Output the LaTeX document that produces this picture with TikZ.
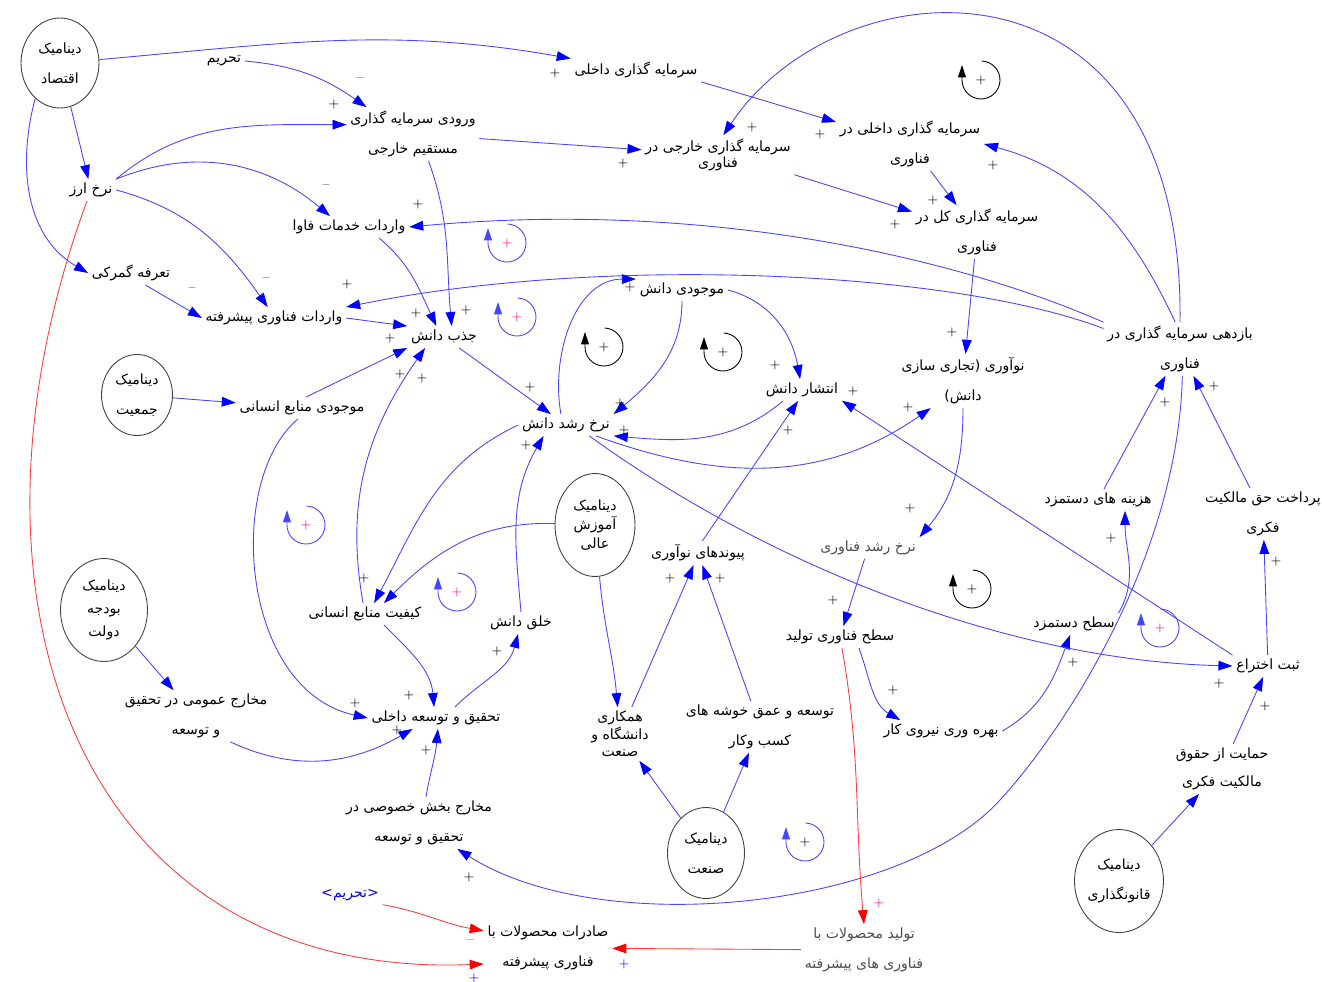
\documentclass[tikz,border=0pt]{standalone}
\usepackage{fontspec}
\newfontfamily\fa[Script=Arabic]{DejaVu Sans}
\TeXXeTstate=1
\usetikzlibrary{arrows.meta,shapes.geometric}
\definecolor{lblue}{RGB}{70,70,255}
\definecolor{lred}{RGB}{255,60,60}
\newcommand{\rl}[1]{\beginR #1\endR}

\begin{document}
\begin{tikzpicture}[x=0.02cm,y=0.02cm,
  var/.style={font=\fa\fontsize{8}{9}\selectfont, align=center, inner sep=2pt},
  tall/.style={var, font=\fa\fontsize{8}{17}\selectfont},
  dyn/.style={ellipse, draw=black!75, line width=0.5pt, inner sep=0pt, align=center, font=\fa\fontsize{8}{17}\selectfont},
  lnk/.style={draw=lblue, line width=0.5pt, -{Triangle[length=8pt,width=5.5pt,color=blue]}},
  rlnk/.style={draw=lred, line width=0.5pt, -{Triangle[length=8pt,width=5.5pt,color=red]}},
  sgn/.style={font=\fontsize{7}{7}\selectfont, inner sep=0pt}]
  \useasboundingbox (0,0) rectangle (1322,-981);

  % dynamics
  \node[dyn, minimum width=1.56cm, minimum height=1.8cm] (econ) at (60,-63) {\rl{دینامیک}\\\rl{اقتصاد}};
  \node[dyn, minimum width=1.42cm, minimum height=1.62cm] (pop) at (137,-395) {\rl{دینامیک}\\\rl{جمعیت}};
  \node[dyn, minimum width=1.74cm, minimum height=2.06cm, font=\fa\fontsize{8}{13}\selectfont] (budget) at (104,-610) {\rl{دینامیک}\\\rl{بودجه}\\\rl{دولت}};
  \node[dyn, minimum width=1.6cm, minimum height=2.06cm, font=\fa\fontsize{8}{11}\selectfont] (edu) at (595,-525) {\rl{دینامیک}\\\rl{آموزش}\\\rl{عالی}};
  \node[dyn, minimum width=1.54cm, minimum height=1.82cm] (ind) at (706,-853) {\rl{دینامیک}\\\rl{صنعت}};
  \node[dyn, minimum width=1.76cm, minimum height=2.06cm] (law) at (1119,-881) {\rl{دینامیک}\\\rl{قانونگذاری}};

  % variables
  \node[var] (sanction) at (224,-61) {\rl{تحریم}};
  \node[var] (domInv) at (636,-70) {\rl{سرمایه گذاری داخلی}};
  \node[tall] (fdi) at (413,-134) {\rl{ورودی سرمایه گذاری}\\\rl{مستقیم خارجی}};
  \node[var] (exch) at (91,-190) {\rl{نرخ ارز}};
  \node[var] (tariff) at (131,-273) {\rl{تعرفه گمرکی}};
  \node[var] (ictImp) at (349,-227) {\rl{واردات خدمات فاوا}};
  \node[var] (advImp) at (274,-318) {\rl{واردات فناوری پیشرفته}};
  \node[var] (absorb) at (444,-337) {\rl{جذب دانش}};
  \node[var] (stockHR) at (302,-408) {\rl{موجودی منابع انسانی}};
  \node[var] (stockK) at (682,-290) {\rl{موجودی دانش}};
  \node[var] (forTech) at (718,-155) {\rl{سرمایه گذاری خارجی در}\\\rl{فناوری}};
  \node[tall] (domTech) at (910,-144) {\rl{سرمایه گذاری داخلی در}\\\rl{فناوری}};
  \node[tall] (totTech) at (977,-232) {\rl{سرمایه گذاری کل در}\\\rl{فناوری}};
  \node[tall] (roi) at (1180,-349) {\rl{بازدهی سرمایه گذاری در}\\\rl{فناوری}};
  \node[tall] (innov) at (963,-381) {\rl{نوآوری (تجاری سازی}\\\rl{دانش)}};
  \node[var] (diffusion) at (802,-390) {\rl{انتشار دانش}};
  \node[var] (growthK) at (566,-425) {\rl{نرخ رشد دانش}};
  \node[var] (hrQual) at (365,-614) {\rl{کیفیت منابع انسانی}};
  \node[var] (kCreate) at (521,-623) {\rl{خلق دانش}};
  \node[var] (innovLinks) at (698,-553) {\rl{پیوندهای نوآوری}};
  \node[var, text=black!70] (techGrowth) at (868,-548) {\rl{نرخ رشد فناوری}};
  \node[var] (techLevel) at (840,-637) {\rl{سطح فناوری تولید}};
  \node[var] (wageCost) at (1098,-500) {\rl{هزینه های دستمزد}};
  \node[tall] (ipPay) at (1263,-514) {\rl{پرداخت حق مالکیت}\\\rl{فکری}};
  \node[var] (wageLevel) at (1074,-624) {\rl{سطح دستمزد}};
  \node[var] (patent) at (1268,-666) {\rl{ثبت اختراع}};
  \node[tall, font=\fa\fontsize{8}{16}\selectfont] (ipProt) at (1222,-769) {\rl{حمایت از حقوق}\\\rl{مالکیت فکری}};
  \node[var] (labProd) at (941,-731) {\rl{بهره وری نیروی کار}};
  \node[tall] (cluster) at (760,-727) {\rl{توسعه و عمق خوشه های}\\\rl{کسب وکار}};
  \node[var, font=\fa\fontsize{8}{10}\selectfont] (uniInd) at (620,-734) {\rl{همکاری}\\\rl{دانشگاه و}\\\rl{صنعت}};
  \node[var] (domRD) at (436,-718) {\rl{تحقیق و توسعه داخلی}};
  \node[tall] (pubRD) at (196,-716) {\rl{مخارج عمومی در تحقیق}\\\rl{و توسعه}};
  \node[tall] (privRD) at (419,-823) {\rl{مخارج بخش خصوصی در}\\\rl{تحقیق و توسعه}};
  \node[tall] (exports) at (548,-948) {\rl{صادرات محصولات با}\\\rl{فناوری پیشرفته}};
  \node[tall, text=black!70] (advProd) at (864,-950) {\rl{تولید محصولات با}\\\rl{فناوری های پیشرفته}};
  \node[var, text=blue] (shadow) at (350,-895) {\rl{<تحریم>}};

  % links
  \draw[lnk] (econ) to[out=5,in=170] (domInv);
  \draw[lnk] (sanction.east) to[out=-5,in=145] (fdi.150);
  \draw[lnk] (exch.north east) to[out=40,in=180] (fdi.172);
  \draw[lnk] (exch.north east) to[out=22,in=140] (ictImp.150);
  \draw[lnk] (exch.east) to[out=-15,in=125] (advImp.120);
  \draw[lnk] (econ) -- (exch);
  \draw[lnk] (econ.235) to[out=-105,in=150] (tariff.west);
  \draw[lnk] (tariff.-40) -- (advImp.west);
  \draw[lnk] (domInv.south east) -- (domTech);
  \draw[lnk] (fdi) -- (forTech);
  \draw[lnk] (forTech.south east) -- (totTech);
  \draw[lnk] (domTech) -- (totTech);
  \draw[lnk] (roi.north) .. controls (1185,60) and (840,40) .. (forTech.75);
  \draw[lnk] (roi.100) to[out=115,in=-15] (domTech.east);
  \draw[lnk] (roi.north west) .. controls (950,-255) and (700,-200) .. (ictImp.east);
  \draw[lnk] (roi.165) .. controls (950,-270) and (600,-255) .. (advImp.north east);
  \draw[lnk] (totTech) -- (innov);
  \draw[lnk] (innov) to[out=-90,in=50] (techGrowth.north east);
  \draw[lnk] (techGrowth) -- (techLevel);
  \draw[lnk] (techLevel.-30) to[out=-70,in=150] (labProd.165);
  \draw[lnk] (labProd.east) to[out=30,in=-110] (wageLevel.-110);
  \draw[lnk] (wageLevel.north east) to[out=60,in=-90] (wageCost.-22);
  \draw[lnk] (wageCost) -- (roi);
  \draw[lnk] (ipPay) -- (roi);
  \draw[lnk] (patent) -- (ipPay);
  \draw[lnk] (ipProt) -- (patent);
  \draw[lnk] (law) -- (ipProt);
  \draw[lnk] (patent.north west) -- (diffusion.-15);
  \draw[lnk] (growthK.-25) .. controls (760,-560) and (1000,-660) .. (patent.west);
  \draw[lnk] (roi.-85) .. controls (1178,-560) and (1060,-735) .. (1000,-800)
    .. controls (900,-910) and (600,-940) .. (privRD.-34);
  \draw[lnk] (privRD.75) to[out=80,in=-95] (domRD.-80);
  \draw[lnk] (pubRD.-37) to[out=-25,in=-150] (domRD.205);
  \draw[lnk] (stockHR.-110) .. controls (225,-480) and (240,-690) .. (domRD.west);
  \draw[lnk] (hrQual.-30) to[out=-45,in=95] (domRD.100);
  \draw[lnk] (domRD.30) to[out=45,in=-105] (kCreate);
  \draw[lnk] (kCreate.north) to[out=95,in=-120] (growthK.-154);
  \draw[lnk] (growthK.west) to[out=-155,in=62] (hrQual.50);
  \draw[lnk] (edu) to[out=178,in=45] (hrQual.30);
  \draw[lnk] (hrQual.100) to[out=100,in=-125] (absorb.-150);
  \draw[lnk] (stockHR.70) -- (absorb.south west);
  \draw[lnk] (pop) -- (stockHR);
  \draw[lnk] (advImp.east) -- (absorb.north west);
  \draw[lnk] (ictImp.-20) to[out=-40,in=115] (absorb.125);
  \draw[lnk] (fdi.-60) to[out=-70,in=95] (absorb.55);
  \draw[lnk] (absorb) -- (growthK);
  \draw[lnk] (growthK.115) to[out=100,in=180] (stockK.north west);
  \draw[lnk] (stockK) to[out=-90,in=40] (growthK.north east);
  \draw[lnk] (stockK.east) to[out=-15,in=100] (diffusion.100);
  \draw[lnk] (diffusion.-150) to[out=-140,in=-5] (growthK.south east);
  \draw[lnk] (growthK.-20) to[out=-20,in=-145] (innov.-140);
  \draw[lnk] (innovLinks.70) -- (diffusion.-110);
  \draw[lnk] (uniInd) -- (innovLinks.-110);
  \draw[lnk] (cluster) -- (innovLinks.-70);
  \draw[lnk] (edu) to[out=-85,in=95] (uniInd);
  \draw[lnk] (ind) -- (uniInd);
  \draw[lnk] (ind) -- (cluster);
  \draw[lnk] (budget) -- (pubRD);

  % red links
  \draw[rlnk] (exch.-110) .. controls (-60,-600) and (80,-980) .. (exports.194);
  \draw[rlnk] (shadow.south east) to[out=-10,in=170] (exports.165);
  \draw[rlnk] (advProd) -- (exports);
  \draw[rlnk] (techLevel.-80) to[out=-80,in=95] (advProd.north);

  % polarity
  \foreach \x/\y [count=\i] in {555/73,334/104,623/163,752/127,820/134,993/165,933/200,895/224,
    418/204,347/284,390/338,416/313,466/310,400/374,422/378,530/387,630/287,620/403,624/430,
    526/445,775/365,853/391,788/430,952/332,908/407,910/508,833/600,893/690,1073/662,1111/538,
    1165/402,1214/386,1276/561,1265/706,1219/683,670/578,720/578,364/578,355/703,409/695,
    397/730,426/750,497/651,469/877}
    \node[sgn] (pl\i) at (\x,-\y) {+};
  \node[sgn, text=magenta] (pla) at (879,-903) {+};
  \node[sgn, text=blue] (plb) at (624,-964) {+};
  \node[sgn, text=blue] (plc) at (474,-978) {+};
  \foreach \x/\y [count=\i] in {360/80,326/187,266/280,192/290}
    \node[sgn] (mi\i) at (\x,-\y) {\textendash};
  \node[sgn, text=blue] (mia) at (470,-942) {\textendash};

  % loops
  \foreach \x/\y/\lc/\sc [count=\i] in {981/80/black/black,507/243/lblue/magenta,517/317/lblue/magenta,
    604/347/black/black,723/352/black/black,306/525/lblue/magenta,457/592/lblue/magenta,
    972/589/black/black,1160/628/lblue/magenta,805/842/lblue/black}
  {
    \node[sgn, text=\sc] (loop\i) at (\x,-\y) {+};
    \draw[\lc, line width=0.5pt, -{Triangle[length=7pt,width=4.5pt]}] (loop\i.center) ++(88:0.38cm)
      arc[start angle=88, end angle=-180, radius=0.38cm] -- ++(0,0.3cm);
  }
\end{tikzpicture}
\end{document}
